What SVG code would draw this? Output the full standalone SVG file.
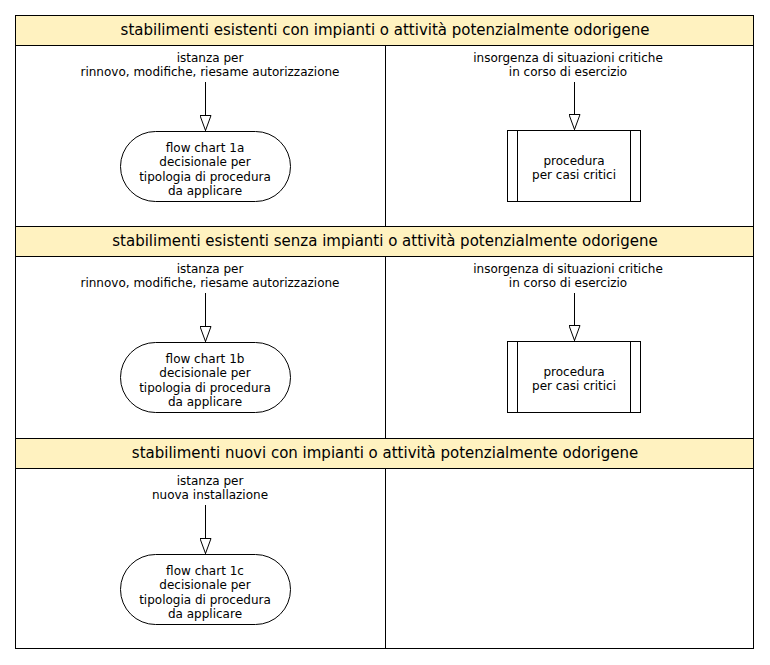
<svg xmlns="http://www.w3.org/2000/svg" width="770" height="665" viewBox="0 0 770 665">
<style>
text{font-family:"DejaVu Sans",sans-serif;fill:#000;text-anchor:middle}
.h{font-size:15px}
.l{font-size:12px}
.n{font-size:12px}
.hdr{fill:#fff2c0;stroke:#000;stroke-width:1}
.box{fill:#fff;stroke:#000;stroke-width:1}
.ln{stroke:#000;stroke-width:1;fill:none}
</style>
<defs>
<marker id="ah" viewBox="0 0 16 12" markerWidth="16" markerHeight="12" refX="16" refY="6" orient="auto" markerUnits="userSpaceOnUse">
<path d="M0.5,0.5 L15.5,6 L0.5,11.5 Z" fill="#fff" stroke="#000" stroke-width="1"/>
</marker>
</defs>
<rect x="15.5" y="15.5" width="738" height="633" fill="#fff" stroke="#000"/>
<g id="lanes">
<rect class="hdr" x="15.5" y="15.5" width="738" height="30"/>
<text class="h" x="385" y="35">stabilimenti esistenti con impianti o attività potenzialmente odorigene</text>
<rect class="hdr" x="15.5" y="226.5" width="738" height="30"/>
<text class="h" x="385" y="246">stabilimenti esistenti senza impianti o attività potenzialmente odorigene</text>
<rect class="hdr" x="15.5" y="438.5" width="738" height="30"/>
<text class="h" x="385" y="458">stabilimenti nuovi con impianti o attività potenzialmente odorigene</text>
<line class="ln" x1="385.5" y1="45.5" x2="385.5" y2="226.5"/>
<line class="ln" x1="385.5" y1="256.5" x2="385.5" y2="438.5"/>
<line class="ln" x1="385.5" y1="468.5" x2="385.5" y2="648.5"/>
</g>
<g id="labels">
<text class="l" x="210" y="62">istanza per</text>
<text class="l" x="210" y="76">rinnovo, modifiche, riesame autorizzazione</text>
<text class="l" x="568" y="62">insorgenza di situazioni critiche</text>
<text class="l" x="568" y="76">in corso di esercizio</text>
<text class="l" x="210" y="273">istanza per</text>
<text class="l" x="210" y="287">rinnovo, modifiche, riesame autorizzazione</text>
<text class="l" x="568" y="273">insorgenza di situazioni critiche</text>
<text class="l" x="568" y="287">in corso di esercizio</text>
<text class="l" x="210" y="485">istanza per</text>
<text class="l" x="210" y="499">nuova installazione</text>
</g>
<g id="connectors">
<line class="ln" x1="205.5" y1="82" x2="205.5" y2="131" marker-end="url(#ah)"/>
<line class="ln" x1="574.5" y1="82" x2="574.5" y2="130" marker-end="url(#ah)"/>
<line class="ln" x1="205.5" y1="293" x2="205.5" y2="342" marker-end="url(#ah)"/>
<line class="ln" x1="574.5" y1="293" x2="574.5" y2="341" marker-end="url(#ah)"/>
<line class="ln" x1="205.5" y1="505" x2="205.5" y2="554" marker-end="url(#ah)"/>
</g>
<g id="fc1a">
<rect class="box" x="120.5" y="131.5" width="170" height="70" rx="35" ry="35"/>
<text class="n" x="205" y="152">flow chart 1a</text>
<text class="n" x="205" y="166">decisionale per</text>
<text class="n" x="205" y="181">tipologia di procedura</text>
<text class="n" x="205" y="195">da applicare</text>
</g>
<g id="pc1">
<rect class="box" x="507.5" y="130.5" width="133" height="71"/>
<line class="ln" x1="517.5" y1="130.5" x2="517.5" y2="201.5"/>
<line class="ln" x1="630.5" y1="130.5" x2="630.5" y2="201.5"/>
<text class="n" x="574" y="165">procedura</text>
<text class="n" x="574" y="179">per casi critici</text>
</g>
<g id="fc1b">
<rect class="box" x="120.5" y="342.5" width="170" height="70" rx="35" ry="35"/>
<text class="n" x="205" y="363">flow chart 1b</text>
<text class="n" x="205" y="377">decisionale per</text>
<text class="n" x="205" y="392">tipologia di procedura</text>
<text class="n" x="205" y="406">da applicare</text>
</g>
<g id="pc2">
<rect class="box" x="507.5" y="341.5" width="133" height="71"/>
<line class="ln" x1="517.5" y1="341.5" x2="517.5" y2="412.5"/>
<line class="ln" x1="630.5" y1="341.5" x2="630.5" y2="412.5"/>
<text class="n" x="574" y="376">procedura</text>
<text class="n" x="574" y="390">per casi critici</text>
</g>
<g id="fc1c">
<rect class="box" x="120.5" y="554.5" width="170" height="70" rx="35" ry="35"/>
<text class="n" x="205" y="575">flow chart 1c</text>
<text class="n" x="205" y="589">decisionale per</text>
<text class="n" x="205" y="604">tipologia di procedura</text>
<text class="n" x="205" y="618">da applicare</text>
</g>
</svg>
